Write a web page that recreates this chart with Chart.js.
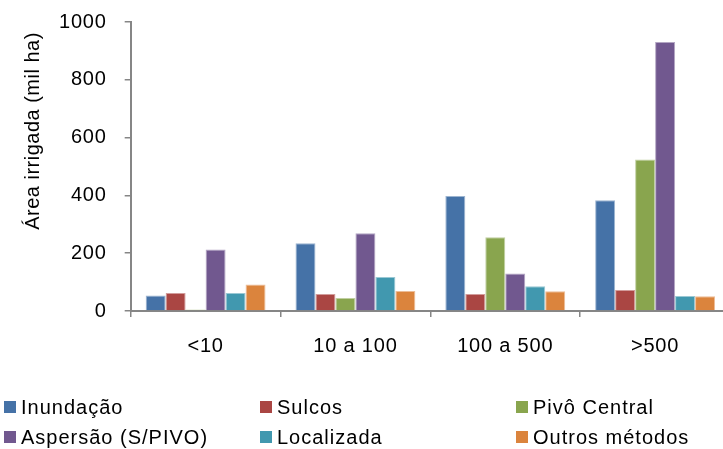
<!DOCTYPE html>
<html>
<head>
<meta charset="utf-8">
<script src="https://cdn.jsdelivr.net/npm/chart.js@4/dist/chart.umd.min.js"></script>
<style>
  html, body { margin: 0; padding: 0; background: #fff; overflow: hidden; }
  #wrap { position: relative; width: 723px; height: 449px; overflow: hidden; }
  #chart { position: absolute; left: 0; top: 0; }
  #legend { position: absolute; left: 0; top: 0; width: 723px; font-family: "Liberation Sans", Arial, sans-serif; font-size: 20px; letter-spacing: 1px; color: #000; }
  .item { position: absolute; display: flex; align-items: center; white-space: nowrap; height: 24px; line-height: 24px; }
  .box { width: 12px; height: 12px; margin-right: 5px; flex: none; }
</style>
</head>
<body>
<div id="wrap">
  <canvas id="chart" width="730" height="449"></canvas>
  <div id="legend"></div>
</div>
<script>
// Irrigated area by farm size class and irrigation method (thousand ha)
const categories = ['<10', '10 a 100', '100 a 500', '>500'];
const seriesNames = ['Inundação', 'Sulcos', 'Pivô Central', 'Aspersão (S/PIVO)', 'Localizada', 'Outros métodos'];
const inundacao   = [54, 234, 398, 383];
const sulcos      = [62, 59, 59, 73];
const pivoCentral = [5, 45, 255, 524];
const aspersao    = [213, 269, 130, 931];
const localizada  = [62, 118, 86, 52];
const outros      = [92, 69, 68, 51];
const yTicks = [0, 200, 400, 600, 800, 1000];

const seriesValues = [inundacao, sulcos, pivoCentral, aspersao, localizada, outros];
const colors = ['#4572A7', '#AA4643', '#89A54E', '#71588F', '#4198AF', '#DB843D'];
const FONT = '"Liberation Sans", Arial, sans-serif';

// Slightly open letter spacing for all canvas text
const textSpacing = {
  id: 'textSpacing',
  beforeInit(chart) { chart.ctx.letterSpacing = '0.8px'; },
  beforeLayout(chart) { chart.ctx.letterSpacing = '0.8px'; }
};

// Rotated y-axis title, placed a little above the axis centre
const axisTitle = {
  id: 'axisTitle',
  afterDraw(chart) {
    const ctx = chart.ctx;
    ctx.save();
    ctx.letterSpacing = '0.5px';
    ctx.translate(33, 131);
    ctx.rotate(-Math.PI / 2);
    ctx.font = '20px ' + FONT;
    ctx.fillStyle = '#000';
    ctx.textAlign = 'center';
    ctx.textBaseline = 'middle';
    ctx.fillText('Área irrigada (mil ha)', 0, 0);
    ctx.restore();
  }
};

const chart = new Chart(document.getElementById('chart'), {
  type: 'bar',
  data: {
    labels: categories,
    datasets: seriesNames.map((name, i) => ({
      label: name,
      data: seriesValues[i],
      backgroundColor: colors[i],
      borderColor: colors[i] + '88',
      borderWidth: 1,
      borderSkipped: 'start',
      categoryPercentage: 0.8,
      barPercentage: 1.0
    }))
  },
  options: {
    responsive: false,
    animation: false,
    layout: { padding: { left: 41, right: 0, top: 0, bottom: 74 } },
    plugins: { legend: { display: false }, tooltip: { enabled: false } },
    scales: {
      x: {
        grid: { display: true, drawOnChartArea: false, drawTicks: true, tickLength: 6, lineWidth: 1.5, color: '#868686', offset: true },
        border: { display: true, color: '#868686', width: 2 },
        ticks: { color: '#000', font: { family: FONT, size: 20 }, padding: 17, maxRotation: 0 }
      },
      y: {
        min: 0, max: 1000,
        afterBuildTicks(scale) { scale.ticks = yTicks.map(v => ({ value: v })); },
        afterFit(scale) { scale.paddingTop = 22; },
        grid: { display: true, drawOnChartArea: false, drawTicks: true, tickLength: 6, lineWidth: 1.5, color: '#868686' },
        border: { display: true, color: '#868686', width: 2 },
        ticks: { color: '#000', font: { family: FONT, size: 20 }, padding: 18, callback: v => String(v) }
      }
    }
  },
  plugins: [textSpacing, axisTitle]
});

// Legend in three columns below the plot
const legend = document.getElementById('legend');
const colX = [4, 260, 516];
const rowY = [395, 425];
seriesNames.forEach((name, i) => {
  const item = document.createElement('div');
  item.className = 'item';
  item.style.left = colX[i % 3] + 'px';
  item.style.top = rowY[Math.floor(i / 3)] + 'px';
  const box = document.createElement('span');
  box.className = 'box';
  box.style.background = colors[i];
  const txt = document.createElement('span');
  txt.textContent = name;
  item.appendChild(box);
  item.appendChild(txt);
  legend.appendChild(item);
});
</script>
</body>
</html>
